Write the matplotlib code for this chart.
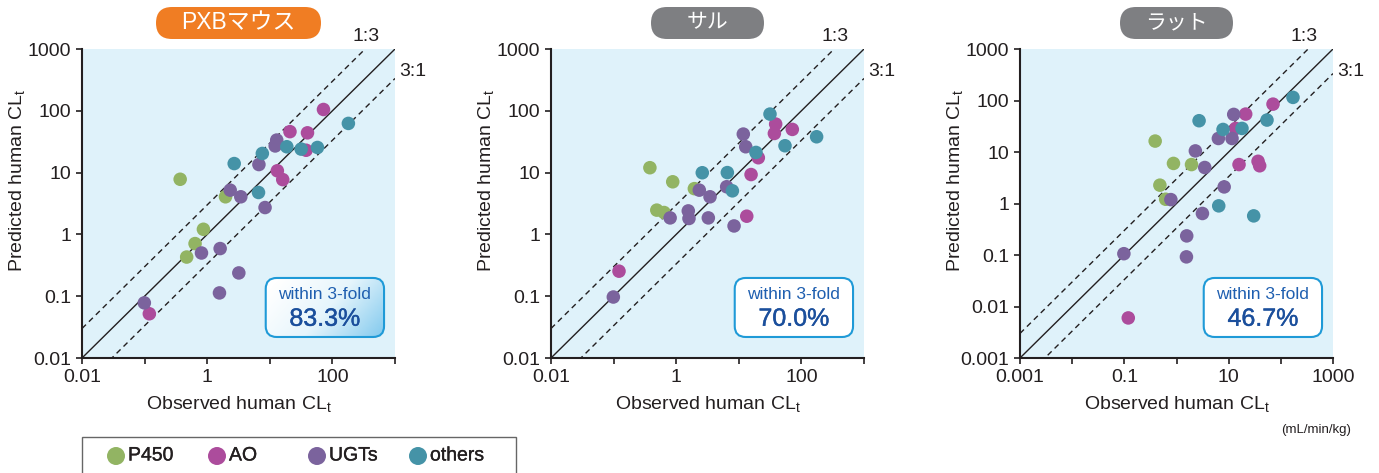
import numpy as np
import matplotlib
matplotlib.use("Agg")
import matplotlib.pyplot as plt
import matplotlib.patheffects as pe
from matplotlib.patches import FancyBboxPatch, Rectangle, Circle
from matplotlib.colors import LinearSegmentedColormap

plt.rcParams['font.family'] = ['Liberation Sans', 'Noto Sans CJK JP']
plt.rcParams['mathtext.fontset'] = 'custom'
plt.rcParams['mathtext.rm'] = 'Liberation Sans'
plt.rcParams['mathtext.it'] = 'Liberation Sans'

# enzyme groups and their colours
categories = ['P450', 'AO', 'UGTs', 'others']
cat_colors = ['#92b463', '#ac4c9c', '#7b639d', '#4593a7']

panel_titles = ['PXBマウス', 'サル', 'ラット']
badge_colors = ['#f07d23', '#7e7f82', '#7e7f82']
within_text = ['83.3%', '70.0%', '46.7%']

# PXB mouse: observed / predicted human CLt, group index into categories
pxb_obs = [0.37, 1.96, 0.87, 0.64, 0.47,
           72, 21, 40, 38, 13.2, 16.1, 0.119,
           12.9, 12.2, 6.7, 2.33, 3.44, 8.4, 0.81, 1.61, 3.2, 1.57, 0.099,
           180, 18.7, 31.7, 57.7, 7.6, 2.7, 6.6]
pxb_pred = [7.8, 4.06, 1.21, 0.71, 0.43,
            105, 46, 44, 23, 10.7, 7.7, 0.052,
            33.6, 27, 13.5, 5.2, 4.06, 2.72, 0.50, 0.59, 0.238, 0.113, 0.078,
            62.5, 26.2, 24, 25.5, 20.4, 14, 4.77]
pxb_group = [0] * 5 + [1] * 7 + [2] * 11 + [3] * 7

# monkey
monkey_obs = [0.38, 0.88, 1.95, 0.49, 0.64,
              38.8, 37, 71.6, 20.5, 15.7, 13.4, 0.122,
              11.8, 12.9, 6.4, 2.34, 3.47, 1.56, 1.6, 0.80, 3.26, 8.4, 0.099,
              31.5, 175, 54.7, 18.8, 2.61, 6.56, 7.9]
monkey_pred = [12, 7.1, 5.5, 2.47, 2.26,
               61, 43, 50, 17.4, 9.3, 1.97, 0.254,
               42, 26.2, 5.9, 5.2, 4.06, 2.4, 1.81, 1.85, 1.85, 1.37, 0.097,
               88.5, 38, 27.2, 21.2, 9.95, 10, 5.07]
monkey_group = [0] * 5 + [1] * 7 + [2] * 11 + [3] * 7

# rat
rat_obs = [0.39, 0.875, 1.94, 0.48, 0.62,
           70.8, 21.2, 13.6, 15.8, 36.6, 39.3, 0.119,
           12.5, 6.35, 11.6, 2.3, 3.48, 8.2, 0.78, 3.14, 1.57, 1.55, 0.098,
           171, 2.71, 7.8, 18, 54.3, 6.45, 30.2]
rat_pred = [16.3, 6.0, 5.7, 2.27, 1.21,
            85, 54.5, 28.7, 5.7, 6.6, 5.4, 0.006,
            53.7, 18.3, 18.3, 10.5, 5.0, 2.1, 1.19, 0.64, 0.235, 0.092, 0.106,
            115, 40.5, 27.4, 28.7, 41.7, 0.9, 0.575]
rat_group = [0] * 5 + [1] * 7 + [2] * 11 + [3] * 7

# axis ranges and tick labels
limits = [(0.01, 1000), (0.01, 1000), (0.001, 1000)]
ticks_a = [0.01, 0.1, 1, 10, 100, 1000]
ticks_b = [0.001, 0.01, 0.1, 1, 10, 100, 1000]
xlabels_a = ['0.01', '', '1', '', '100', '']
ylabels_a = ['0.01', '0.1', '1', '10', '100', '1000']
xlabels_b = ['0.001', '', '0.1', '', '10', '', '1000']
ylabels_b = ['0.001', '0.01', '0.1', '1', '10', '100', '1000']

panels = [
    (pxb_obs, pxb_pred, pxb_group, ticks_a, xlabels_a, ylabels_a),
    (monkey_obs, monkey_pred, monkey_group, ticks_a, xlabels_a, ylabels_a),
    (rat_obs, rat_pred, rat_group, ticks_b, xlabels_b, ylabels_b),
]

W, H = 1379, 473
fig = plt.figure(figsize=(W / 100, H / 100), dpi=100)
ax_left = [82, 551, 1020]
ax_w, ax_top, ax_bot = 313, 49, 358

ink = '#231f20'
bg = '#dff2fa'
grad_cmap = LinearSegmentedColormap.from_list('g', ['#ffffff', '#e6f5fc', '#8acdef'])

for i, (obs, pred, grp, ticks, xl, yl) in enumerate(panels):
    ax = fig.add_axes([ax_left[i] / W, (H - ax_bot) / H, ax_w / W, (ax_bot - ax_top) / H])
    ax.set_facecolor(bg)
    ax.set_xscale('log')
    ax.set_yscale('log')
    lo, hi = limits[i]

    # 1:1, 1:3 and 3:1 lines
    lims = np.array([lo, hi])
    ax.plot(lims, lims, color=ink, lw=1.0, zorder=2)
    ax.plot(lims, lims * 3, color=ink, lw=1.0, ls=(0, (4, 3)), zorder=2)
    ax.plot(lims, lims / 3, color=ink, lw=1.0, ls=(0, (4, 3)), zorder=2)

    obs = np.array(obs)
    pred = np.array(pred)
    grp = np.array(grp)
    for k, c in enumerate(cat_colors):
        m = grp == k
        ax.scatter(obs[m], pred[m], s=95, color=c, edgecolors='none', zorder=3)

    # within 3-fold box
    bx, by, bw, bh = 0.587, 0.068, 0.378, 0.191
    fill = FancyBboxPatch((bx, by), bw, bh, boxstyle='round,pad=0,rounding_size=0.035',
                          transform=ax.transAxes, facecolor='white', edgecolor='none', zorder=4)
    ax.add_patch(fill)
    if i == 0:
        u, v = np.meshgrid(np.linspace(0, 1, 200), np.linspace(0, 1, 100))
        g = np.clip(0.8 * u + 0.35 * v - 0.1, 0, 1)
        im = ax.imshow(g, extent=(bx, bx + bw, by, by + bh), transform=ax.transAxes,
                       cmap=grad_cmap, aspect='auto', origin='upper', zorder=4.5,
                       interpolation='bilinear')
        im.set_clip_path(fill)
    edge = FancyBboxPatch((bx, by), bw, bh, boxstyle='round,pad=0,rounding_size=0.035',
                          transform=ax.transAxes, facecolor='none', edgecolor='#1f9ad7',
                          lw=1.5, zorder=5)
    ax.add_patch(edge)
    ax.text(bx + bw / 2, 0.204, 'within 3-fold', transform=ax.transAxes, ha='center',
            va='center', fontsize=12.5, color='#1f5fb0', zorder=6)
    ax.text(bx + bw / 2, 0.127, within_text[i], transform=ax.transAxes, ha='center',
            va='center', fontsize=18, color='#1b4f9c', zorder=6,
            path_effects=[pe.withStroke(linewidth=0.3, foreground='#1b4f9c')])

    ax.text(0.907, 1.039, '1:3', transform=ax.transAxes, ha='center', va='center',
            fontsize=14, color=ink, clip_on=False)
    ax.text(1.013, 0.926, '3:1', transform=ax.transAxes, ha='left', va='center',
            fontsize=14, color=ink, clip_on=False)

    ax.set_xlim(lo, hi)
    ax.set_ylim(lo, hi)
    ax.set_xticks(ticks)
    ax.set_xticklabels(xl)
    ax.set_yticks(ticks)
    ax.set_yticklabels(yl)
    ax.minorticks_off()
    ax.tick_params(direction='out', length=4.5, width=1.2, pad=3.5, labelsize=14,
                   colors=ink)
    for s in ['top', 'right']:
        ax.spines[s].set_visible(False)
    for s in ['left', 'bottom']:
        ax.spines[s].set_linewidth(1.5)
        ax.spines[s].set_color(ink)

    ax.set_xlabel(r'Observed human CL$_\mathrm{t}$', fontsize=14, color=ink)
    ax.set_ylabel(r'Predicted human CL$_\mathrm{t}$', fontsize=14, color=ink)
    ax.xaxis.set_label_coords(0.5, -0.115)
    ax.yaxis.set_label_coords(-0.175, 0.575)

    # title badge
    bwid = 165 if i == 0 else 113
    cx = ax_left[i] + ax_w / 2
    badge = FancyBboxPatch(((cx - bwid / 2) / 100, (H - 39) / 100), bwid / 100, 0.32,
                           boxstyle='round,pad=0,rounding_size=0.16',
                           transform=fig.dpi_scale_trans, facecolor=badge_colors[i],
                           edgecolor='none')
    fig.add_artist(badge)
    fig.text(cx / 100, (H - 23) / 100, panel_titles[i], transform=fig.dpi_scale_trans,
             ha='center', va='center', fontsize=16.5 if i == 0 else 15, color='white',
             family=['Liberation Sans', 'Noto Sans CJK JP'])

fig.text(1351 / 100, (H - 430) / 100, '(mL/min/kg)', transform=fig.dpi_scale_trans,
         ha='right', va='center', fontsize=9.5, color=ink)

# legend
frame = Rectangle((82 / 100, -0.1), (516 - 82) / 100, (H - 437) / 100 + 0.1,
                  transform=fig.dpi_scale_trans, facecolor='none', edgecolor='#666666', lw=1.0)
fig.add_artist(frame)
leg_x = [116, 217, 317, 418]
for name, c, x in zip(categories, cat_colors, leg_x):
    fig.add_artist(Circle((x / 100, (H - 456) / 100), 0.09, transform=fig.dpi_scale_trans,
                          facecolor=c, edgecolor='none'))
    fig.text((x + 12) / 100, (H - 456) / 100, name, transform=fig.dpi_scale_trans,
             ha='left', va='center', fontsize=14, color=ink,
             path_effects=[pe.withStroke(linewidth=0.25, foreground=ink)])

fig.savefig('out.png', dpi=100, facecolor='white')
